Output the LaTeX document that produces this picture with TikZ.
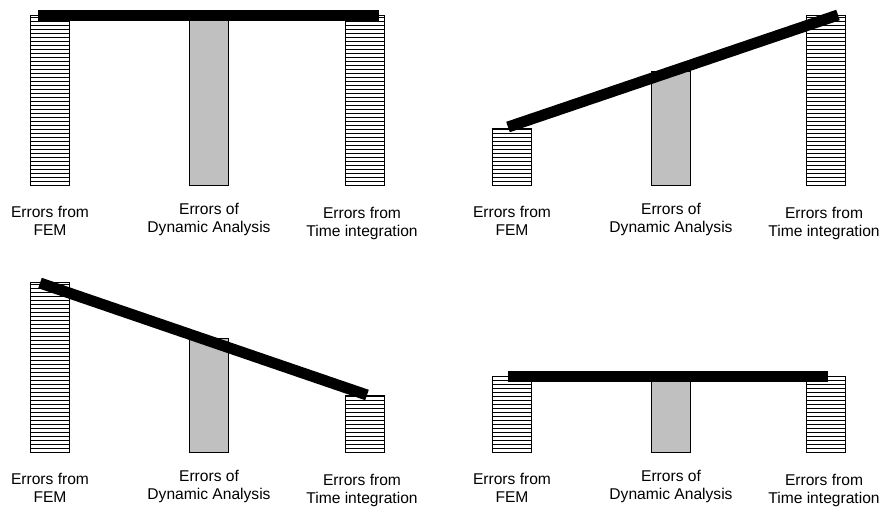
\documentclass[tikz,border=0pt]{standalone}
\usepackage{fontspec}
\setmainfont{Liberation Sans}

\definecolor{bargray}{HTML}{C0C0C0}

\tikzset{
    bar/.style={draw=black, line width=0.8pt},
    hatch/.style={line width=0.7pt},
    beam/.style={line width=11pt, black},
    lbl/.style={font=\fontsize{15.6}{18}\selectfont, align=center}
}

% hatched bar: left edge, top
\newcommand{\hatchbar}[2]{%
    \foreach \yy in {181,177,...,#2} \draw[hatch] (#1,\yy) -- (#1+39,\yy);
    \draw[bar] (#1,#2) rectangle (#1+39,185);
}
% grey bar: left edge, top
\newcommand{\greybar}[2]{%
    \draw[bar, fill=bargray] (#1,#2) rectangle (#1+39,185);
}
% the three labels of one panel
\newcommand{\barlabels}[1]{%
    \node[lbl] (fem#1) at (50,221) {Errors from\\FEM};
    \node[lbl] (dyn#1) at (209,219.5) {Errors of\\Dynamic Analysis};
    \node[lbl] (time#1) at (362,223.5) {Errors from\\Time integration};
}

\begin{document}
\begin{tikzpicture}[x=1pt, y=-1pt]
        \useasboundingbox (0,0) rectangle (882,509);

        % Panel 1: level
        \begin{scope}
            \hatchbar{30}{15}
            \greybar{189}{20}
            \hatchbar{345}{15}
            \coordinate (l1) at (38,15);
            \coordinate (r1) at (379,15);
            \draw[beam] (l1) -- (r1);
            \barlabels{1}
        \end{scope}

        % Panel 2: rising
        \begin{scope}[shift={(462,0)}]
            \hatchbar{30}{128}
            \greybar{189}{71}
            \hatchbar{344}{15}
            \coordinate (l2) at (46,127);
            \coordinate (r2) at (376,15);
            \draw[beam] (l2) -- (r2);
            \barlabels{2}
        \end{scope}

        % Panel 3: falling
        \begin{scope}[shift={(0,267)}]
            \hatchbar{30}{15}
            \greybar{189}{71}
            \hatchbar{345}{128}
            \coordinate (l3) at (40,16);
            \coordinate (r3) at (367,128);
            \draw[beam] (l3) -- (r3);
            \barlabels{3}
        \end{scope}

        % Panel 4: low and level
        \begin{scope}[shift={(462,267)}]
            \hatchbar{30}{109}
            \greybar{189}{112}
            \hatchbar{344}{109}
            \coordinate (l4) at (46,109);
            \coordinate (r4) at (366,109);
            \draw[beam] (l4) -- (r4);
            \barlabels{4}
        \end{scope}
    \end{tikzpicture}
\end{document}
